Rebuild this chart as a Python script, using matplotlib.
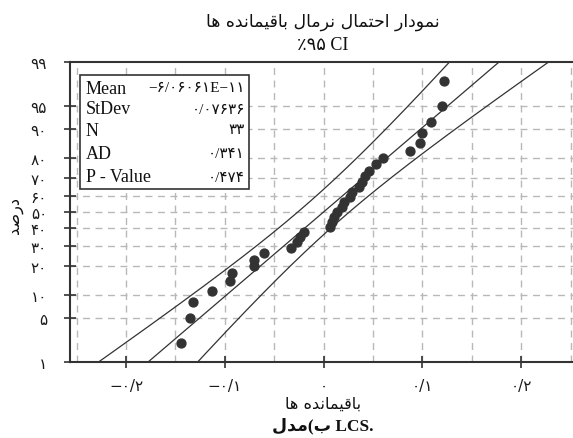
import numpy as np
import matplotlib
matplotlib.use('Agg')
import matplotlib.pyplot as plt
from matplotlib.patches import Rectangle
from statistics import NormalDist

# ---------------- data ----------------
residuals = [-0.1444, -0.1350, -0.1323, -0.1130, -0.0950, -0.0924, -0.0702, -0.0702,
             -0.0608, -0.0327, -0.0266, -0.0236, -0.0203, 0.0068, 0.0085, 0.0101,
             0.0135, 0.0186, 0.0203, 0.0270, 0.0287, 0.0354, 0.0389, 0.0422,
             0.0456, 0.0534, 0.0598, 0.0871, 0.0980, 0.0997, 0.1083, 0.1201, 0.1217]
mean_val = -6.06061e-11
stdev_val = 0.07636
n_val = 33
ad_val = 0.341
p_value = 0.474
stat_names = ['Mean', 'StDev', 'N', 'AD', 'P - Value']
y_ticks = [1, 5, 10, 20, 30, 40, 50, 60, 70, 80, 90, 95, 99]
x_ticks = [-0.2, -0.1, 0.0, 0.1, 0.2]
x_grid = [-0.25, -0.2, -0.15, -0.1, -0.05, 0.0, 0.05, 0.1, 0.15, 0.2, 0.25]
title_text = 'نمودار احتمال نرمال باقیمانده ها'
subtitle_text = '٪۹۵ CI'
ylabel_text = 'درصد'
xlabel_text = 'باقیمانده ها'
caption_ar = 'مدل'
caption_pre = 'ب'
caption_latin = ' LCS.'

# ---------------- helpers ----------------
FORMS = {  # isolated, final, initial, medial
    'ا': ('\uFE8D', '\uFE8E', None, None),
    'ب': ('\uFE8F', '\uFE90', '\uFE91', '\uFE92'),
    'ت': ('\uFE95', '\uFE96', '\uFE97', '\uFE98'),
    'ح': ('\uFEA1', '\uFEA2', '\uFEA3', '\uFEA4'),
    'د': ('\uFEA9', '\uFEAA', None, None),
    'ر': ('\uFEAD', '\uFEAE', None, None),
    'ص': ('\uFEB9', '\uFEBA', '\uFEBB', '\uFEBC'),
    'ق': ('\uFED5', '\uFED6', '\uFED7', '\uFED8'),
    'ل': ('\uFEDD', '\uFEDE', '\uFEDF', '\uFEE0'),
    'م': ('\uFEE1', '\uFEE2', '\uFEE3', '\uFEE4'),
    'ن': ('\uFEE5', '\uFEE6', '\uFEE7', '\uFEE8'),
    'ه': ('\uFEE9', '\uFEEA', '\uFEEB', '\uFEEC'),
    'و': ('\uFEED', '\uFEEE', None, None),
    'ی': ('\uFBFC', '\uFBFD', '\uFBFE', '\uFBFF'),
}


def dual(c):
    return c in FORMS and FORMS[c][2] is not None


def shape(s):
    out = []
    for i, c in enumerate(s):
        if c not in FORMS:
            out.append(c)
            continue
        prev = s[i - 1] if i > 0 else ''
        nxt = s[i + 1] if i + 1 < len(s) else ''
        pc = dual(prev)
        nc = dual(c) and nxt in FORMS
        f = FORMS[c]
        if pc and nc:
            out.append(f[3])
        elif pc:
            out.append(f[1])
        elif nc:
            out.append(f[2])
        else:
            out.append(f[0])
    return ''.join(out[::-1])


FA_DIG = str.maketrans('0123456789.-', '۰۱۲۳۴۵۶۷۸۹/−')


def fa(s):
    return str(s).translate(FA_DIG)


nd = NormalDist()


def fwd(p):
    p = np.clip(np.asarray(p, dtype=float), 1e-7, 100 - 1e-7)
    return np.vectorize(lambda v: nd.inv_cdf(v / 100.0), otypes=[float])(p)


def inv(z):
    z = np.asarray(z, dtype=float)
    return np.vectorize(lambda v: nd.cdf(v) * 100.0, otypes=[float])(z)


# ---------------- figure ----------------
plt.rcParams['font.family'] = ['Liberation Serif', 'DejaVu Sans']
W, H = 573, 439
fig = plt.figure(figsize=(W / 100, H / 100), dpi=100)


def fx(px):
    return px / W


def fy(py):
    return 1 - py / H


ax = fig.add_axes([fx(70), fy(363), fx(573) - fx(70), fy(63) - fy(363)])
ax.set_yscale('function', functions=(fwd, inv))
ax.set_xlim(-0.2567, 0.2525)
ax.set_ylim(1, 99)

dark = '#333333'
gridc = '#b8b8b8'

for g in x_grid:
    ax.axvline(g, color=gridc, lw=1.0, ls=(0, (5, 4)), zorder=1)
for t in y_ticks[1:-1]:
    ax.axhline(t, color=gridc, lw=1.0, ls=(0, (5, 4)), zorder=1)

# fitted line and 95% confidence bands
p_line = np.linspace(0.3, 99.7, 500)
z_line = fwd(p_line)
fit = mean_val + stdev_val * z_line
se = stdev_val * np.sqrt(1.0 / n_val + z_line ** 2 / (2.0 * n_val))
zc = nd.inv_cdf(0.975)
for xs in (fit, fit - zc * se, fit + zc * se):
    ax.plot(xs, p_line, color=dark, lw=0.9, zorder=3)

# points
res_sorted = np.sort(np.array(residuals))
ranks = np.arange(1, len(res_sorted) + 1)
pp = (ranks - 0.3) / (len(res_sorted) + 0.4) * 100
ax.plot(res_sorted, pp, 'o', color=dark, ms=6.4, mec=dark, zorder=4)

# axes styling
for side in ('left', 'bottom', 'top'):
    ax.spines[side].set_color(dark)
    ax.spines[side].set_linewidth(1.5)
ax.spines['right'].set_visible(False)


def xlab(v):
    if v == 0:
        return fa('0')
    return ('−' if v < 0 else '') + fa(f'{abs(v):.1f}')


ax.set_yticks(y_ticks)
ax.set_yticklabels([fa(v) for v in y_ticks], family='DejaVu Sans', fontsize=11, color='#1a1a1a')
ax.yaxis.set_minor_locator(matplotlib.ticker.NullLocator())
ax.set_xticks(x_ticks)
ax.set_xticklabels([xlab(v) for v in x_ticks], family='DejaVu Sans', fontsize=11, color='#1a1a1a')
ax.tick_params(axis='both', direction='inout', length=9, width=1.2, color=dark)
ax.tick_params(axis='y', pad=12)
ax.tick_params(axis='x', pad=7)

# stats box
box = Rectangle((fx(80), fy(190)), fx(249) - fx(80), fy(76) - fy(190), transform=fig.transFigure,
                facecolor='white', edgecolor=dark, lw=1.2, zorder=5)
fig.patches.append(box)
stat_vals = [fa(f'{mean_val:.5E}'), fa(f'{stdev_val:.5f}'), fa(f'{n_val}'), fa(f'{ad_val:.3f}'), fa(f'{p_value:.3f}')]
row_y = [89, 110, 131, 155, 178]
for name, val, ry in zip(stat_names, stat_vals, row_y):
    fig.text(fx(86), fy(ry), name, ha='left', va='center', fontsize=13, color='#111111', zorder=6)
    fig.text(fx(245), fy(ry), val, ha='right', va='center', fontsize=11, color='#111111', zorder=6)

# titles and labels
fig.text(fx(323), fy(22), shape(title_text), ha='center', va='center', fontsize=12.5,
         family='DejaVu Sans', color='#111111')
fig.text(fx(323), fy(46), subtitle_text, ha='center', va='center', fontsize=13, color='#111111')
fig.text(fx(16), fy(215), shape(ylabel_text), ha='center', va='center', rotation=90, fontsize=11.5,
         family='DejaVu Sans', color='#111111')
fig.text(fx(323), fy(404), shape(xlabel_text), ha='center', va='center', fontsize=11.5,
         family='DejaVu Sans', color='#111111')
fig.text(fx(323), fy(426), shape(caption_ar) + '(' + shape(caption_pre) + caption_latin, ha='center',
         va='center', fontsize=12.5, fontweight='bold', color='#111111')

fig.savefig('out.png', dpi=100)
